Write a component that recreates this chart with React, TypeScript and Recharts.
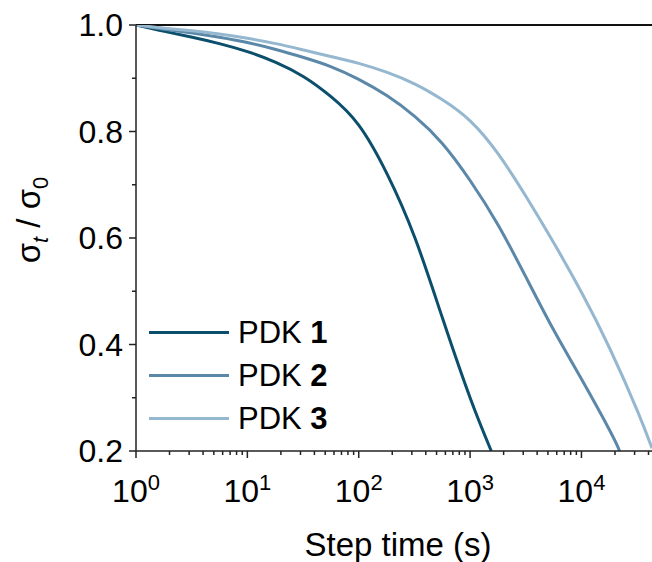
import { Legend, Line, LineChart, ReferenceLine, XAxis, YAxis } from 'recharts'

const pdk1 = [
  { t: 1, v: 1.0 },
  { t: 1.8, v: 0.988 },
  { t: 3.2, v: 0.977 },
  { t: 5.6, v: 0.965 },
  { t: 10, v: 0.95 },
  { t: 18, v: 0.93 },
  { t: 32, v: 0.903 },
  { t: 56, v: 0.866 },
  { t: 100, v: 0.812 },
  { t: 180, v: 0.72 },
  { t: 320, v: 0.6 },
  { t: 560, v: 0.452 },
  { t: 1000, v: 0.3 },
  { t: 1550, v: 0.2 },
]

const pdk2 = [
  { t: 1, v: 1.0 },
  { t: 1.8, v: 0.992 },
  { t: 3.2, v: 0.985 },
  { t: 5.6, v: 0.977 },
  { t: 10, v: 0.967 },
  { t: 18, v: 0.954 },
  { t: 32, v: 0.939 },
  { t: 56, v: 0.922 },
  { t: 100, v: 0.898 },
  { t: 180, v: 0.867 },
  { t: 320, v: 0.828 },
  { t: 560, v: 0.778 },
  { t: 1000, v: 0.708 },
  { t: 1800, v: 0.623 },
  { t: 3200, v: 0.525 },
  { t: 5600, v: 0.428 },
  { t: 10000, v: 0.335 },
  { t: 18000, v: 0.238 },
  { t: 22000, v: 0.2 },
]

const pdk3 = [
  { t: 1, v: 1.0 },
  { t: 1.8, v: 0.994 },
  { t: 3.2, v: 0.989 },
  { t: 5.6, v: 0.983 },
  { t: 10, v: 0.975 },
  { t: 18, v: 0.965 },
  { t: 32, v: 0.953 },
  { t: 56, v: 0.941 },
  { t: 100, v: 0.928 },
  { t: 180, v: 0.911 },
  { t: 320, v: 0.889 },
  { t: 560, v: 0.86 },
  { t: 1000, v: 0.82 },
  { t: 1800, v: 0.757 },
  { t: 3200, v: 0.677 },
  { t: 5600, v: 0.592 },
  { t: 10000, v: 0.498 },
  { t: 18000, v: 0.392 },
  { t: 32000, v: 0.274 },
  { t: 43000, v: 0.205 },
]

const series = [
  { name: '1', data: pdk1, color: '#0b4f6c' },
  { name: '2', data: pdk2, color: '#5b88a8' },
  { name: '3', data: pdk3, color: '#95b8d0' },
]

const decades = [1, 10, 100, 1000, 10000]
const xMax = 43000
const xTicks = decades.flatMap((d) => [1, 2, 3, 4, 5, 6, 7, 8, 9].map((m) => m * d)).filter((t) => t <= xMax)
const yTicks = [0.2, 0.3, 0.4, 0.5, 0.6, 0.7, 0.8, 0.9, 1.0]

const FONT = '"Liberation Sans", Arial, sans-serif'
const AXIS = '#222'

function XTick({ x, y, payload }: any) {
  const v = payload.value
  const exp = Math.round(Math.log10(v))
  const major = Math.abs(Math.pow(10, exp) - v) < 1e-6
  return (
    <g>
      <line x1={x} x2={x} y1={y} y2={y + (major ? 7 : 4)} stroke={AXIS} strokeWidth={1.5} />
      {major && (
        <text x={x} y={y + 51} textAnchor="middle" fontSize={32} fontFamily={FONT} fill="#000">
          <tspan>10</tspan>
          <tspan dy={-12} fontSize={22}>{exp}</tspan>
        </text>
      )}
    </g>
  )
}

function YTick({ x, y, payload }: any) {
  const v = payload.value
  const major = Math.round(v * 10) % 2 === 0
  return (
    <g>
      <line x1={x} x2={x - (major ? 7 : 4)} y1={y} y2={y} stroke={AXIS} strokeWidth={1.5} />
      {major && (
        <text x={x - 13} y={y + 11} textAnchor="end" fontSize={32} fontFamily={FONT} fill="#000">
          {v.toFixed(1)}
        </text>
      )}
    </g>
  )
}

function LegendBox() {
  return (
    <div style={{ fontFamily: FONT, fontSize: 31, color: '#000' }}>
      {series.map((s) => (
        <div key={s.name} style={{ display: 'flex', alignItems: 'center', height: 43 }}>
          <div style={{ width: 80, height: 3, background: s.color, marginRight: 9 }} />
          <span>
            PDK <b>{s.name}</b>
          </span>
        </div>
      ))}
    </div>
  )
}

export default function App() {
  return (
    <div style={{ position: 'absolute', left: 0, top: 0, background: '#fff' }}>
      <LineChart width={652} height={562} margin={{ top: 25, right: 0, bottom: 0, left: 0 }}>
        <XAxis
          dataKey="t"
          type="number"
          scale="log"
          domain={[1, xMax]}
          allowDataOverflow
          ticks={xTicks}
          interval={0}
          tickSize={0}
          tickMargin={0}
          tickLine={false}
          tick={<XTick />}
          height={111}
          axisLine={{ stroke: AXIS, strokeWidth: 1.5 }}
          label={{
            value: 'Step time (s)',
            position: 'insideBottom',
            offset: 6,
            fontSize: 33,
            fontFamily: FONT,
            fill: '#000',
            dx: 4,
          }}
        />
        <YAxis
          dataKey="v"
          type="number"
          domain={[0.2, 1.0]}
          allowDataOverflow
          ticks={yTicks}
          interval={0}
          tickSize={0}
          tickMargin={0}
          tickLine={false}
          tick={<YTick />}
          width={136}
          axisLine={{ stroke: AXIS, strokeWidth: 1.5 }}
          label={(props: any) => {
            const vb = props.viewBox
            const cy = vb ? vb.y + vb.height / 2 - 18 : 220
            return (
              <text
                transform={`translate(40, ${cy}) rotate(-90)`}
                textAnchor="middle"
                fontSize={33}
                fontFamily={FONT}
                fill="#000"
              >
                <tspan>σ</tspan>
                <tspan dy={8} fontSize={22} fontStyle="italic">t</tspan>
                <tspan dy={-8}> / σ</tspan>
                <tspan dy={8} fontSize={22}>0</tspan>
              </text>
            )
          }}
        />
        <ReferenceLine y={1} stroke="#111" strokeWidth={2} />
        {series.map((s) => (
          <Line
            key={s.name}
            data={s.data}
            dataKey="v"
            name={`PDK ${s.name}`}
            type="natural"
            stroke={s.color}
            strokeWidth={3}
            dot={false}
            activeDot={false}
            isAnimationActive={false}
          />
        ))}
        <Legend
          layout="vertical"
          verticalAlign="middle"
          align="center"
          content={<LegendBox />}
          wrapperStyle={{ left: 149, top: 311, width: 220 }}
        />
      </LineChart>
    </div>
  )
}
